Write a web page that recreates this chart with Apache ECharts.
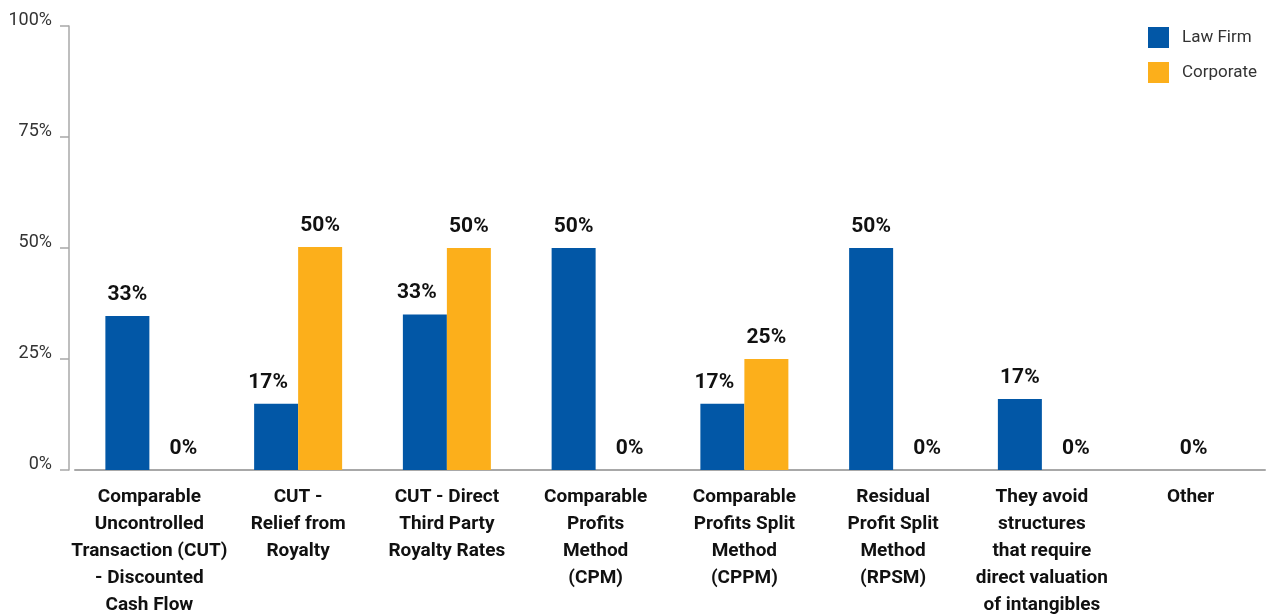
<!DOCTYPE html>
<html>
<head>
<meta charset="utf-8">
<script src="https://cdn.jsdelivr.net/npm/echarts@6/dist/echarts.min.js"></script>
<style>
html,body{margin:0;padding:0;background:#fff;overflow:hidden;}
#chart{width:1270px;height:614px;}
</style>
</head>
<body>
<div id="chart"></div>
<script>
var categories = [
  'Comparable\nUncontrolled\nTransaction (CUT)\n- Discounted\nCash Flow',
  'CUT -\nRelief from\nRoyalty',
  'CUT - Direct\nThird Party\nRoyalty Rates',
  'Comparable\nProfits\nMethod\n(CPM)',
  'Comparable\nProfits Split\nMethod\n(CPPM)',
  'Residual\nProfit Split\nMethod\n(RPSM)',
  'They avoid\nstructures\nthat require\ndirect valuation\nof intangibles',
  'Other'
];
var seriesNames = ['Law Firm', 'Corporate'];
// bar heights as drawn in the reference (percent)
var lawFirm = [34.7, 14.9, 35.0, 50, 14.9, 50, 16.0, 0];
var corporate = [0, 50.2, 50, 0, 25, 0, 0, 0];
// value labels as printed in the reference
var lawFirmLabels = ['33%', '17%', '33%', '50%', '17%', '50%', '17%', ''];
var corporateLabels = ['0%', '50%', '50%', '0%', '25%', '0%', '0%', '0%'];
var yTicks = ['0%', '25%', '50%', '75%', '100%'];

var FONT = 'Roboto, "Liberation Sans Narrow", sans-serif';
var BLUE = '#0257a6';
var ORANGE = '#fcaf1b';

function buildData(values, labels, isCorp) {
  return values.map(function (v, i) {
    var off = [0, 0];
    if (isCorp) {
      if (labels[i] === '0%') off = [12, 0];
      if (i === categories.length - 1) off = [-19, 0];
    } else {
      if (corporate[i] > v) off = [-8, 0];
    }
    return { value: v, label: { offset: off } };
  });
}

var chart = echarts.init(document.getElementById('chart'), null, { renderer: 'canvas' });
chart.setOption({
  backgroundColor: '#ffffff',
  animation: false,
  color: [BLUE, ORANGE],
  legend: {
    orient: 'vertical',
    left: 1148,
    top: 27,
    padding: 0,
    itemWidth: 21,
    itemHeight: 21,
    itemGap: 14,
    icon: 'rect',
    textStyle: { fontFamily: FONT, fontSize: 17, fontWeight: 400, color: '#333', padding: [0, 0, 0, 8] },
    data: seriesNames
  },
  grid: { left: 75, right: 5, top: 26, bottom: 144, containLabel: false, outerBoundsMode: 'none' },
  xAxis: {
    type: 'category',
    data: categories,
    axisTick: { show: false },
    axisLine: { lineStyle: { color: '#a8a8a8', width: 2 } },
    axisLabel: {
      interval: 0,
      margin: 14,
      fontFamily: FONT,
      fontWeight: 'bold',
      fontSize: 19,
      lineHeight: 27,
      color: '#111',
      align: 'center'
    }
  },
  yAxis: {
    type: 'value',
    min: 0,
    max: 100,
    interval: 25,
    offset: 6,
    splitLine: { show: false },
    axisLine: { show: true, lineStyle: { color: '#a8a8a8', width: 1.5 } },
    axisTick: { show: true, length: 9, lineStyle: { color: '#a8a8a8', width: 1.5 } },
    axisLabel: {
      margin: 17,
      fontFamily: FONT,
      fontSize: 18,
      fontWeight: 400,
      color: '#333',
      lineHeight: 12,
      formatter: function (v) { return yTicks[Math.round(v / 25)] + '\n '; }
    }
  },
  series: [
    {
      name: seriesNames[0],
      type: 'bar',
      barWidth: 44,
      barGap: '0%',
      data: buildData(lawFirm, lawFirmLabels, false),
      label: {
        show: true,
        position: 'top',
        distance: 11,
        fontFamily: FONT,
        fontWeight: 'bold',
        fontSize: 21,
        color: '#111',
        formatter: function (p) { return lawFirmLabels[p.dataIndex]; }
      }
    },
    {
      name: seriesNames[1],
      type: 'bar',
      barWidth: 44,
      barGap: '0%',
      data: buildData(corporate, corporateLabels, true),
      label: {
        show: true,
        position: 'top',
        distance: 11,
        fontFamily: FONT,
        fontWeight: 'bold',
        fontSize: 21,
        color: '#111',
        formatter: function (p) { return corporateLabels[p.dataIndex]; }
      }
    }
  ]
});
</script>
</body>
</html>
